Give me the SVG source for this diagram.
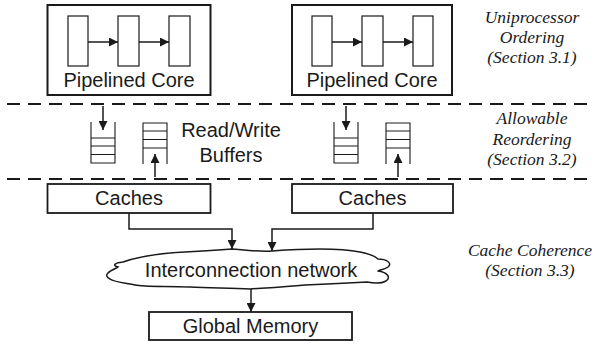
<svg xmlns="http://www.w3.org/2000/svg" width="597" height="345" viewBox="0 0 597 345">
<defs>
<style>
.box{fill:#fff;stroke:#1a1a1a;stroke-width:1.8}
.core{fill:#fff;stroke:#1a1a1a;stroke-width:2}
.stage{fill:#fff;stroke:#1a1a1a;stroke-width:1.2}
.buf{fill:none;stroke:#1a1a1a;stroke-width:1.1}
.line{fill:none;stroke:#1a1a1a;stroke-width:1.5}
.dash{fill:none;stroke:#1a1a1a;stroke-width:2;stroke-dasharray:13 8}
.lbl{font-family:"Liberation Sans",Arial,sans-serif;font-size:20px;fill:#1a1a1a;text-anchor:middle}
.note{font-family:"Liberation Serif","Times New Roman",serif;font-style:italic;font-size:17.5px;fill:#1a1a1a;text-anchor:middle}
</style>
<marker id="ah" viewBox="0 0 10 10" refX="10" refY="5" markerWidth="10" markerHeight="9" markerUnits="userSpaceOnUse" orient="auto">
<path d="M0,0 L10,5 L0,10 Z" fill="#1a1a1a"/>
</marker>
</defs>
<rect width="597" height="345" fill="#fff"/>

<g id="layer-lines">
<line class="dash" x1="7" y1="104" x2="592" y2="104"/>
<line class="dash" x1="7" y1="179" x2="592" y2="179"/>
</g>

<g id="core-left">
<rect class="core" x="47.5" y="5" width="163" height="90"/>
<rect class="stage" x="68" y="16" width="20" height="50"/>
<rect class="stage" x="118" y="16" width="21" height="50"/>
<rect class="stage" x="169" y="16" width="21" height="50"/>
<line class="line" x1="88" y1="42" x2="118" y2="42" marker-end="url(#ah)"/>
<line class="line" x1="139" y1="42" x2="169" y2="42" marker-end="url(#ah)"/>
<text class="lbl" x="129" y="87">Pipelined Core</text>
</g>

<g id="core-right">
<rect class="core" x="292" y="5" width="160" height="90"/>
<rect class="stage" x="312" y="16" width="20" height="50"/>
<rect class="stage" x="362" y="16" width="21" height="50"/>
<rect class="stage" x="413" y="16" width="20" height="50"/>
<line class="line" x1="332" y1="42" x2="362" y2="42" marker-end="url(#ah)"/>
<line class="line" x1="383" y1="42" x2="413" y2="42" marker-end="url(#ah)"/>
<text class="lbl" x="372" y="87">Pipelined Core</text>
</g>

<g id="buffers-left">
<path class="buf" d="M91,122 V163 H115 V122 M91,138 H115 M91,146 H115 M91,154.5 H115"/>
<line class="line" x1="103" y1="106" x2="103" y2="130" marker-end="url(#ah)"/>
<path class="buf" d="M143,164 V123 H167 V164 M143,131 H167 M143,139.5 H167 M143,148 H167"/>
<line class="line" x1="155" y1="177" x2="155" y2="154" marker-end="url(#ah)"/>
</g>

<g id="buffers-right">
<path class="buf" d="M334,122 V163 H358 V122 M334,138 H358 M334,146 H358 M334,154.5 H358"/>
<line class="line" x1="346" y1="106" x2="346" y2="130" marker-end="url(#ah)"/>
<path class="buf" d="M386,164 V123 H410 V164 M386,131 H410 M386,139.5 H410 M386,148 H410"/>
<line class="line" x1="398" y1="177" x2="398" y2="154" marker-end="url(#ah)"/>
</g>

<g id="buffers-label">
<text class="lbl" x="231" y="137">Read/Write</text>
<text class="lbl" x="231" y="162">Buffers</text>
</g>

<g id="caches-left">
<rect class="box" x="47.5" y="184" width="163" height="29"/>
<text class="lbl" x="129" y="205">Caches</text>
</g>

<g id="caches-right">
<rect class="box" x="292" y="184" width="161" height="29"/>
<text class="lbl" x="372.5" y="205">Caches</text>
</g>

<g id="network">
<path class="line" fill="#fff" d="M123,262 C140,256 165,253 185,252 C205,251 220,250 232,249 C245,250 260,252 272,251 C300,249 340,248 360,252 C370,254 376,257 378,259 C386,259 393,263 388,267 C384,270 378,270 378,271 C386,272 392,277 386,281 C381,284 372,283 367,282 C350,283 330,284 305,285 C285,287 265,288 250,289 C230,288 210,288 190,287 C165,286 145,287 135,285 C125,283 114,282 110,279 C106,277 106,275 108,273 C111,270 117,268 118,267 C113,266 113,263 123,262 Z"/>
<text class="lbl" x="251" y="277">Interconnection network</text>
</g>

<g id="memory">
<rect class="box" x="149" y="312" width="203" height="28"/>
<text class="lbl" x="250.5" y="333">Global Memory</text>
</g>

<g id="connectors">
<path class="line" d="M129,213 V229 H232 V249" marker-end="url(#ah)"/>
<path class="line" d="M373,213 V229 H272 V251" marker-end="url(#ah)"/>
<path class="line" d="M251,289 V312" marker-end="url(#ah)"/>
</g>

<g id="notes">
<text class="note" x="532" y="23">Uniprocessor</text>
<text class="note" x="532" y="43">Ordering</text>
<text class="note" x="532" y="63">(Section 3.1)</text>
<text class="note" x="532" y="124">Allowable</text>
<text class="note" x="532" y="145">Reordering</text>
<text class="note" x="532" y="165">(Section 3.2)</text>
<text class="note" x="530" y="256">Cache Coherence</text>
<text class="note" x="530" y="276">(Section 3.3)</text>
</g>
</svg>
